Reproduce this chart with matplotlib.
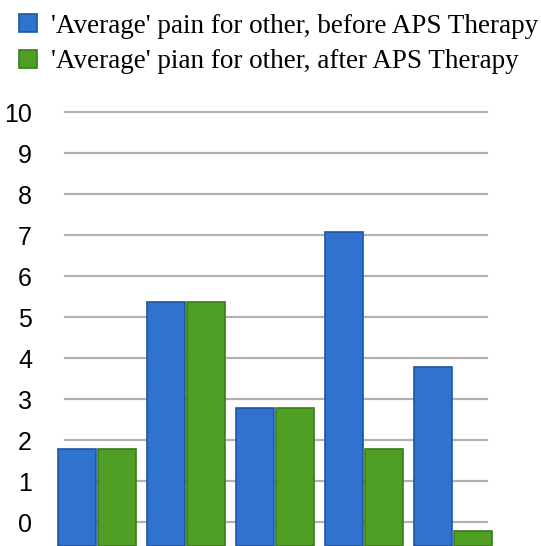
import numpy as np
import matplotlib.pyplot as plt

# data (0-10 pain scale)
groups = np.arange(5)
before_aps = [2.0, 5.6, 3.0, 7.3, 4.0]
after_aps = [2.0, 5.6, 3.0, 2.0, 0.0]
labels = ["'Average' pain for other, before APS Therapy",
          "'Average' pian for other, after APS Therapy"]
yticks = list(range(0, 11))

# pseudo-3d look: bars sit in front of the back wall, so they show a bit lower
depth = 0.22
y_lo, y_hi = -0.585, 10.15
w = 0.43
off = 0.225

fig = plt.figure(figsize=(5.41, 5.46), dpi=100)
ax = fig.add_axes([50 / 541, 0.0, 450 / 541, 440 / 546])
ax.set_xlim(-0.53, 4.53)
ax.set_ylim(y_lo, y_hi)

for y in yticks:
    ax.axhline(y, xmin=0.033, xmax=0.971, color="#b4b2ae", lw=1.6, zorder=1)

blue, blue_edge = "#2f73cf", "#1d56a6"
green, green_edge = "#4f9f25", "#3a7c18"

def draw(xs, vals, face, edge, lab):
    tops = np.array(vals) - depth
    return ax.bar(xs, tops - y_lo, bottom=y_lo, width=w, color=face,
                  edgecolor=edge, linewidth=1.2, zorder=3, label=lab)

b1 = draw(groups - off, before_aps, blue, blue_edge, labels[0])
b2 = draw(groups + off, after_aps, green, green_edge, labels[1])

ax.set_yticks(yticks)
ax.set_yticklabels([str(t) for t in yticks], fontsize=18, family="Liberation Sans")
ax.tick_params(axis="y", length=0, pad=13)
ax.set_xticks([])
for s in ax.spines.values():
    s.set_visible(False)

fig.legend(handles=[b1, b2], labels=labels, loc="upper left",
           bbox_to_anchor=(0.005, 1.005), frameon=False,
           prop={"family": "Liberation Serif", "size": 19.5},
           handlelength=0.68, handleheight=0.68, handletextpad=0.5,
           labelspacing=0.4, borderaxespad=0.2)

fig.savefig("out.png", dpi=100)
